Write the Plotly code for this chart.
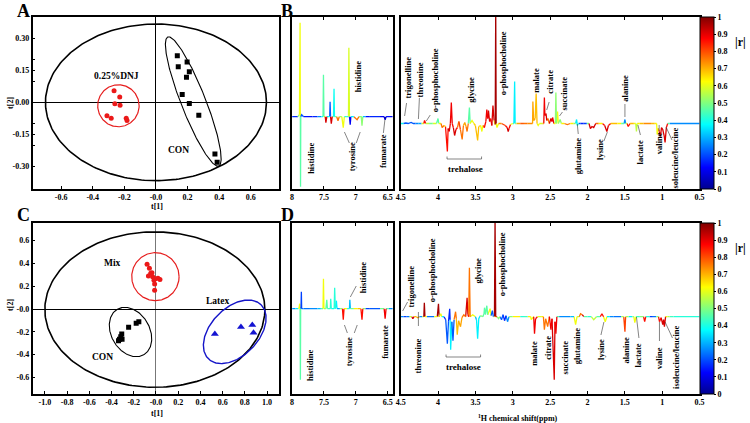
import numpy as np
import plotly.graph_objects as go
from plotly.colors import sample_colorscale

W, H = 750, 423
FONT = "Liberation Serif"
JET = [[0, 'rgb(0,0,143)'], [0.125, 'rgb(0,0,255)'], [0.375, 'rgb(0,255,255)'],
       [0.625, 'rgb(255,255,0)'], [0.875, 'rgb(255,0,0)'], [1, 'rgb(128,0,0)']]

# ---------------- score plot data ----------------
A_DNJ_T1 = [-0.265, -0.229, -0.260, -0.227, -0.310, -0.283, -0.188, -0.183]
A_DNJ_T2 = [0.054, 0.025, -0.006, -0.014, -0.063, -0.074, -0.075, -0.085]
A_CON_T1 = [0.135, 0.197, 0.141, 0.211, 0.193, 0.166, 0.211, 0.271, 0.373, 0.387]
A_CON_T2 = [0.219, 0.189, 0.167, 0.143, 0.118, 0.037, -0.005, -0.060, -0.242, -0.281]

C_MIX_T1 = [-0.080, -0.059, -0.047, -0.068, -0.030, -0.018, -0.006, 0.018, 0.036, -0.012, -0.012, -0.036]
C_MIX_T2 = [0.392, 0.357, 0.313, 0.290, 0.284, 0.252, 0.266, 0.269, 0.260, 0.219, 0.164, 0.319]
C_CON_T1 = [-0.154, -0.178, -0.246, -0.308, -0.317, -0.328, -0.337, -0.305]
C_CON_T2 = [-0.111, -0.126, -0.161, -0.219, -0.243, -0.266, -0.278, -0.266]
C_LATEX_T1 = [0.53, 0.765, 0.867, 0.878]
C_LATEX_T2 = [-0.22, -0.157, -0.140, -0.208]

# ellipses: centre (data), semi-axes (px), angle (deg)
A_ELLIPSES = [((0.0, 0.0), 112, 78.3, 0, 'black', 1.6),
              ((-0.2375, -0.016), 21, 21, 0, 'rgb(230,30,30)', 1.2),
              ((0.236, 0.004), 69.5, 12.4, -68.2, 'black', 1.1)]
C_ELLIPSES = [((-0.01, -0.005), 111.5, 77.7, 0, 'black', 1.6),
              ((-0.005, 0.284), 24, 24, 0, 'rgb(230,30,30)', 1.2),
              ((-0.229, -0.202), 26.4, 19.4, -58.7, 'black', 1.1),
              ((0.709, -0.200), 38, 24, 45, 'rgb(20,20,200)', 1.4)]

# ---------------- spectra data (ppm, intensity, |r|) ----------------
BL = [(8.00,0,0.1),(7.95,0,0.2),(7.91,0,0.1),(7.885,2,0.5),(7.875,94,0.62),(7.871,0,0.6),(7.868,-70,0.45),
      (7.864,0,0.45),(7.85,2,0.2),(7.82,0,0.1),(7.75,0,0.15),(7.68,0,0.1),(7.60,0,0.2),(7.54,0,0.3),
      (7.515,0,0.45),(7.508,42,0.45),(7.50,0,0.45),(7.48,0,0.7),(7.47,-6,0.9),(7.455,0,0.5),(7.41,0,0.25),
      (7.404,15,0.2),(7.397,0,0.25),(7.385,-7,0.9),(7.37,0,0.6),(7.35,0,0.4),(7.342,28,0.38),(7.335,0,0.4),
      (7.30,0,0.6),(7.28,-4,0.75),(7.26,0,0.5),(7.22,0,0.55),(7.197,-11,0.6),(7.18,0,0.5),(7.14,0,0.3),
      (7.115,0,0.55),(7.109,69,0.58),(7.10,0,0.55),(7.088,-8,0.1),(7.078,0,0.1),(7.03,0,0.6),(6.98,-3,0.75),
      (6.95,0,0.5),(6.915,0,0.5),(6.903,-9,0.5),(6.89,0,0.45),(6.85,0,0.15),(6.78,0,0.1),(6.70,0,0.2),
      (6.62,0,0.1),(6.555,0,0.1),(6.54,-3,0.05),(6.525,0,0.1),(6.42,0,0.15)]
BR = [(4.50,0,0.35),(4.46,0,0.4),(4.43,0.5,0.2),(4.40,0,0.1),(4.36,1,0.2),(4.33,0,0.1),(4.30,0,0.3),(4.26,0,0.2),
      (4.22,0,0.35),(4.19,0,0.8),(4.18,3,0.85),(4.165,0,0.7),(4.12,0,0.4),(4.07,0,0.55),(4.02,0,0.6),(4.00,5,0.45),
      (3.99,0,0.5),(3.96,0,0.7),(3.945,-4,0.75),(3.92,-2,0.6),(3.90,-3,0.65),(3.875,-28,0.85),(3.865,-5,0.8),
      (3.850,-8,0.9),(3.835,0,0.9),(3.822,21,0.88),(3.81,0,0.85),(3.795,-4,0.85),(3.778,-12,0.9),(3.76,-6,0.85),
      (3.74,-4,0.75),(3.721,2,0.8),(3.70,-6,0.8),(3.677,-16,0.75),(3.66,-2,0.7),(3.642,1,0.7),(3.625,-3,0.7),
      (3.611,-8,0.75),(3.595,0,0.6),(3.580,16,0.45),(3.57,0,0.5),(3.545,3,0.6),(3.52,0,0.55),(3.50,-2,0.65),
      (3.47,-17,0.68),(3.455,-3,0.65),(3.43,-2,0.6),(3.413,-8,0.62),(3.40,-2,0.65),(3.38,-4,0.85),(3.36,2,0.85),
      (3.347,14,0.88),(3.335,5,0.88),(3.325,13,0.9),(3.31,2,0.85),(3.295,5,0.85),(3.28,-2,0.75),(3.265,18,0.9),
      (3.25,3,0.6),(3.235,-1,0.55),(3.228,115,0.97),(3.222,0,0.95),(3.211,-4,0.6),(3.19,0,0.7),(3.15,0,0.75),
      (3.10,-2,0.8),(3.075,-4,0.85),(3.061,-8,0.9),(3.05,-5,0.85),(3.03,-1,0.6),(3.0,0,0.5),(2.985,0,0.4),
      (2.975,42,0.35),(2.968,0,0.35),(2.95,0,0.65),(2.90,0,0.75),(2.85,0,0.8),(2.80,0,0.7),(2.75,0,0.75),
      (2.735,0,0.7),(2.731,22,0.72),(2.72,3,0.72),(2.70,5,0.7),(2.687,30,0.68),(2.675,0,0.65),(2.66,-2,0.6),
      (2.643,0,0.55),(2.60,0,0.6),(2.585,0,0.85),(2.577,26,0.88),(2.57,8,0.85),(2.555,10,0.9),(2.545,3,0.85),
      (2.530,5,0.75),(2.51,0,0.7),(2.489,5,0.9),(2.475,2,0.85),(2.467,6,0.88),(2.45,0,0.7),(2.43,0,0.55),
      (2.423,31,0.5),(2.415,0,0.55),(2.401,12,0.6),(2.39,0,0.55),(2.366,4,0.5),(2.35,0,0.6),(2.31,0,0.7),
      (2.27,-1,0.75),(2.23,0,0.65),(2.19,0,0.6),(2.16,0,0.45),(2.146,4,0.35),(2.135,-2,0.4),(2.12,0,0.3),
      (2.09,0,0.1),(2.05,0,0.2),(2.01,0,0.15),(1.98,0,0.8),(1.961,-5,0.9),(1.94,-3,0.9),(1.917,-4,0.9),
      (1.89,0,0.85),(1.85,0,0.7),(1.80,0,0.6),(1.77,-2,0.85),(1.741,-8,0.9),(1.72,-2,0.85),(1.69,0,0.7),
      (1.65,0,0.65),(1.60,0,0.7),(1.55,0,0.6),(1.51,0,0.3),(1.499,4,0.25),(1.49,0,0.3),(1.47,0,0.8),
      (1.455,-3,0.85),(1.43,0,0.7),(1.38,0,0.65),(1.355,0,0.55),(1.345,-8,0.55),(1.335,0,0.6),(1.30,0,0.65),
      (1.25,0,0.7),(1.21,0,0.75),(1.15,0,0.7),(1.10,0,0.65),(1.075,0,0.6),(1.068,-11,0.62),(1.055,-5,0.8),
      (1.04,-8,0.85),(1.024,-13,0.9),(1.01,-4,0.88),(0.993,-6,0.9),(0.975,-12,0.9),(0.962,-19,0.92),
      (0.945,-4,0.85),(0.927,0,0.6),(0.90,0,0.3),(0.85,0,0.2),(0.80,0,0.3),(0.75,0,0.2),(0.70,0,0.3),
      (0.65,0,0.2),(0.60,0,0.3),(0.55,0,0.2),(0.50,0,0.3)]
DL = [(8.00,0,0.2),(7.95,0,0.3),(7.90,0,0.4),(7.89,1,0.6),(7.881,5,0.62),(7.875,0,0.5),(7.870,-71,0.45),
      (7.866,0,0.4),(7.86,2,0.2),(7.855,17,0.18),(7.85,0,0.2),(7.82,0,0.3),(7.78,0,0.15),(7.72,0,0.3),
      (7.66,0,0.2),(7.60,0,0.3),(7.55,0,0.35),(7.515,0,0.55),(7.508,30,0.6),(7.50,0,0.55),(7.47,0,0.5),
      (7.456,9,0.45),(7.445,0,0.45),(7.40,0,0.4),(7.394,10,0.42),(7.385,0,0.4),(7.34,0,0.38),(7.332,21,0.4),
      (7.322,0,0.38),(7.305,8,0.35),(7.295,0,0.3),(7.25,0,0.25),(7.21,0,0.75),(7.197,-11,0.85),(7.185,0,0.8),
      (7.14,0,0.45),(7.10,0,0.35),(7.094,9,0.32),(7.085,0,0.35),(7.03,0,0.6),(6.97,0,0.65),(6.92,0,0.7),
      (6.903,-11,0.85),(6.89,0,0.8),(6.85,0,0.2),(6.78,0,0.15),(6.70,0,0.25),(6.62,0,0.15),(6.555,0,0.8),
      (6.54,-10,0.88),(6.525,0,0.7),(6.48,0,0.2),(6.42,0,0.3)]
DR = [(4.50,0,0.3),(4.46,0,0.2),(4.42,0,0.15),(4.38,0,0.3),(4.35,0,0.8),(4.337,-2,0.9),(4.32,0,0.6),(4.29,0,0.75),
      (4.271,-1,0.7),(4.25,0,0.3),(4.21,0,0.2),(4.19,0,0.9),(4.183,14,0.97),(4.175,0,0.95),(4.15,0,0.3),
      (4.10,0,0.15),(4.05,0,0.3),(4.01,0,0.9),(3.994,13,0.97),(3.985,0,0.9),(3.963,3,0.6),(3.95,0,0.4),
      (3.92,0,0.3),(3.897,-3,0.15),(3.875,-27,0.2),(3.86,-5,0.2),(3.844,8,0.15),(3.838,-3,0.25),
      (3.831,-33,0.35),(3.815,-5,0.25),(3.800,-24,0.2),(3.785,-3,0.3),(3.765,5,0.75),(3.755,-2,0.7),
      (3.743,-18,0.68),(3.725,-4,0.7),(3.699,-10,0.72),(3.68,-1,0.7),(3.655,2,0.75),(3.63,0,0.8),
      (3.611,19,0.92),(3.60,2,0.85),(3.590,0,0.8),(3.580,49,0.75),(3.570,0,0.7),(3.536,2,0.6),(3.50,0,0.4),
      (3.485,-3,0.3),(3.470,-22,0.35),(3.455,-2,0.35),(3.435,1,0.5),(3.40,0,0.45),(3.385,3,0.45),
      (3.378,9,0.45),(3.365,2,0.45),(3.347,11,0.45),(3.335,2,0.5),(3.303,8,0.6),(3.29,1,0.4),(3.273,6,0.2),
      (3.26,0,0.3),(3.245,0,0.9),(3.237,100,0.97),(3.228,0,0.9),(3.211,0,0.7),(3.19,-2,0.5),(3.17,0,0.2),
      (3.15,-3,0.2),(3.13,2,0.3),(3.11,-4,0.15),(3.09,1,0.3),(3.07,-5,0.25),(3.05,0,0.4),(3.00,0,0.6),
      (2.95,0,0.65),(2.90,0,0.6),(2.85,0,0.2),(2.80,0,0.65),(2.76,0,0.6),(2.753,-3,0.6),(2.72,0,0.8),
      (2.709,-17,0.88),(2.695,-2,0.85),(2.67,0,0.6),(2.62,0,0.55),(2.59,0,0.7),(2.577,-13,0.75),(2.56,-2,0.72),
      (2.533,-10,0.75),(2.51,0,0.8),(2.489,-13,0.88),(2.475,-2,0.85),(2.445,-63,0.9),(2.435,-5,0.88),
      (2.423,-17,0.88),(2.41,0,0.6),(2.38,0,0.3),(2.33,0,0.2),(2.28,0,0.3),(2.23,0,0.2),(2.18,0,0.4),
      (2.159,-8,0.62),(2.14,0,0.5),(2.11,0,0.6),(2.093,3,0.75),(2.071,2,0.9),(2.05,0,0.6),(2.00,0,0.3),
      (1.95,0,0.5),(1.917,-3,0.55),(1.88,0,0.3),(1.83,0,0.6),(1.807,3,0.85),(1.785,0,0.6),(1.763,-5,0.6),
      (1.74,0,0.5),(1.70,0,0.2),(1.65,0,0.3),(1.60,0,0.15),(1.55,0,0.3),(1.515,0,0.75),(1.499,-15,0.8),
      (1.49,0,0.75),(1.45,0,0.3),(1.40,0,0.4),(1.38,0,0.6),(1.367,-6,0.62),(1.35,0,0.55),(1.30,0,0.3),
      (1.25,0,0.7),(1.235,-5,0.85),(1.22,0,0.6),(1.17,0,0.2),(1.125,0,0.15),(1.08,0,0.3),(1.05,0,0.7),
      (1.037,-5,0.85),(1.015,-1,0.8),(0.993,-8,0.9),(0.982,-3,0.88),(0.971,-10,0.9),(0.955,0,0.7),
      (0.93,0,0.6),(0.90,0,0.45),(0.85,0,0.42),(0.75,0,0.4),(0.65,0,0.42),(0.55,0,0.4),(0.50,0,0.4)]

A_XTICKS = [-0.6, -0.4, -0.2, 0.0, 0.2, 0.4, 0.6]
A_XTEXT = ['-0.6', '-0.4', '-0.2', '-0.0', '0.2', '0.4', '0.6']
A_YTICKS = [-0.30, -0.15, 0.0, 0.15, 0.30]
A_YTEXT = ['-0.30', '-0.15', '0.00', '0.15', '0.30']
C_XTICKS = [-1.0, -0.8, -0.6, -0.4, -0.2, 0.0, 0.2, 0.4, 0.6, 0.8, 1.0]
C_XTEXT = ['-1.0', '-0.8', '-0.6', '-0.4', '-0.2', '-0.0', '0.2', '0.4', '0.6', '0.8', '1.0']
C_YTICKS = [-0.6, -0.4, -0.2, 0.0, 0.2, 0.4, 0.6]
C_YTEXT = ['-0.6', '-0.4', '-0.2', '-0.0', '0.2', '0.4', '0.6']
SL_TICKS = [8, 7.5, 7, 6.5]
SR_TICKS = [4.5, 4, 3.5, 3, 2.5, 2, 1.5, 1, 0.5]
CB_TICKS = [0, 0.1, 0.2, 0.3, 0.4, 0.5, 0.6, 0.7, 0.8, 0.9, 1]

# ---------------- layout geometry (px) ----------------
BOX = {'A': (28, 278, 17, 189), 'BL': (291, 393, 17, 189), 'BR': (401, 704, 17, 189),
       'C': (28, 278, 223, 394), 'DL': (291, 393, 223, 394), 'DR': (401, 704, 223, 394)}
RANGES = {'A': ([-0.78, 0.78], [-0.406, 0.40]), 'BL': ([8, 6.42], [-72.3, 99.7]),
          'BR': ([4.5, 0.5], [-65.5, 106.5]), 'C': ([-1.11, 1.11], [-0.746, 0.755]),
          'DL': ([8, 6.42], [-85.3, 85.7]), 'DR': ([4.5, 0.5], [-77.3, 93.7])}
AXN = {'A': 1, 'BL': 2, 'BR': 3, 'C': 4, 'DL': 5, 'DR': 6}


def X(px):
    return px / W


def Y(py):
    return 1 - py / H


fig = go.Figure()
TF = dict(family=FONT, size=8, color='black', weight='bold')


def axref(key):
    n = AXN[key]
    return ('x' if n == 1 else f'x{n}'), ('y' if n == 1 else f'y{n}')


def ellipse(key, centre, a, b, ang, color, width):
    l, r, t, bt = BOX[key]
    xr, yr = RANGES[key]
    sx = (r - l) / (xr[1] - xr[0])
    sy = (bt - t) / (yr[1] - yr[0])
    tt = np.linspace(0, 2 * np.pi, 241)
    th = np.radians(ang)
    dx = a * np.cos(tt) * np.cos(th) - b * np.sin(tt) * np.sin(th)
    dy = a * np.cos(tt) * np.sin(th) + b * np.sin(tt) * np.cos(th)
    xa, ya = axref(key)
    fig.add_trace(go.Scatter(x=centre[0] + dx / sx, y=centre[1] + dy / sy, mode='lines',
                             line=dict(color=color, width=width), xaxis=xa, yaxis=ya,
                             showlegend=False, hoverinfo='skip'))


def points(key, xs, ys, symbol, color, size):
    xa, ya = axref(key)
    fig.add_trace(go.Scatter(x=xs, y=ys, mode='markers', xaxis=xa, yaxis=ya,
                             marker=dict(symbol=symbol, color=color, size=size, line=dict(width=0)),
                             showlegend=False, hoverinfo='skip'))


def spectrum(key, data, nbins=40):
    xa, ya = axref(key)
    ppm = [d[0] for d in data]
    val = [d[1] for d in data]
    rr = [d[2] for d in data]
    runs = []
    for i in range(len(ppm) - 1):
        a, b = abs(val[i]), abs(val[i + 1])
        r = rr[i] if a > b else (rr[i + 1] if b > a else 0.5 * (rr[i] + rr[i + 1]))
        k = min(nbins - 1, int(r * nbins))
        if runs and runs[-1][0] == k and runs[-1][3] == i:
            runs[-1][1].append(ppm[i + 1]); runs[-1][2].append(val[i + 1]); runs[-1][3] = i + 1
        else:
            runs.append([k, [ppm[i], ppm[i + 1]], [val[i], val[i + 1]], i + 1])
    groups = {}
    for k, xs, ys, _ in runs:
        g = groups.setdefault(k, ([], []))
        g[0].extend(xs + [None]); g[1].extend(ys + [None])
    for k, (xs, ys) in groups.items():
        c = sample_colorscale(JET, [(k + 0.5) / nbins])[0]
        fig.add_trace(go.Scatter(x=xs, y=ys, mode='lines', xaxis=xa, yaxis=ya,
                                 line=dict(color=c, width=1.3), showlegend=False, hoverinfo='skip'))


def colorbar(key, top, bottom):
    xa, ya = axref(key)
    fig.add_trace(go.Scatter(x=[2.0], y=[0], mode='markers', xaxis=xa, yaxis=ya, showlegend=False,
                             hoverinfo='skip',
                             marker=dict(size=1, opacity=0, color=[0.5], colorscale=JET, cmin=0, cmax=1,
                                         showscale=True,
                                         colorbar=dict(x=X(704), xanchor='left', xpad=0, ypad=0,
                                                       y=Y((top + bottom) / 2), yanchor='middle',
                                                       len=(bottom - top) / H, lenmode='fraction',
                                                       thickness=14, thicknessmode='pixels',
                                                       outlinewidth=1, outlinecolor='black',
                                                       tickmode='array', tickvals=CB_TICKS,
                                                       ticktext=[f'{v:g}' for v in CB_TICKS],
                                                       ticks='outside', ticklen=2, tickcolor='black',
                                                       tickfont=dict(family=FONT, size=8, color='black',
                                                                     weight='bold')))))


# score plots
for e in A_ELLIPSES:
    ellipse('A', *e)
points('A', A_DNJ_T1, A_DNJ_T2, 'circle', 'rgb(235,25,25)', 5)
points('A', A_CON_T1, A_CON_T2, 'square', 'black', 5)
for e in C_ELLIPSES:
    ellipse('C', *e)
points('C', C_MIX_T1, C_MIX_T2, 'circle', 'rgb(235,25,25)', 5)
points('C', C_CON_T1, C_CON_T2, 'square', 'black', 5)
points('C', C_LATEX_T1, C_LATEX_T2, 'triangle-up', 'rgb(20,20,210)', 7)

# spectra
spectrum('BL', BL)
spectrum('BR', BR)
spectrum('DL', DL)
spectrum('DR', DR)
colorbar('BR', 17, 189)
colorbar('DR', 223, 394)

layout = dict(width=W, height=H, margin=dict(l=0, r=0, t=0, b=0), autosize=False,
              paper_bgcolor='white', plot_bgcolor='white', showlegend=False)

for key, n in AXN.items():
    l, r, t, b = BOX[key]
    xr, yr = RANGES[key]
    sfx = '' if n == 1 else str(n)
    xd = dict(domain=[X(l), X(r)], range=xr, showline=True, linecolor='black', linewidth=1.5,
              mirror=True, showgrid=False, zeroline=False, anchor='y' + sfx, tickfont=TF,
              ticks='inside', ticklen=3, tickcolor='black', fixedrange=True)
    yd = dict(domain=[Y(b), Y(t)], range=yr, showline=True, linecolor='black', linewidth=1.5,
              mirror=True, showgrid=False, zeroline=False, anchor='x' + sfx, tickfont=TF,
              fixedrange=True)
    if key in ('A', 'C'):
        xd.update(tickmode='array', tickvals=A_XTICKS if key == 'A' else C_XTICKS,
                  ticktext=A_XTEXT if key == 'A' else C_XTEXT, zeroline=True,
                  zerolinecolor='black' if key == 'A' else '#777', zerolinewidth=1)
        yd.update(tickmode='array', tickvals=A_YTICKS if key == 'A' else C_YTICKS,
                  ticktext=A_YTEXT if key == 'A' else C_YTEXT, ticks='inside', ticklen=3,
                  tickcolor='black', zeroline=True, zerolinecolor='black', zerolinewidth=1)
        if key == 'A':
            yd.update(minor=dict(tickvals=[-0.2, -0.1, 0.1, 0.2], ticklen=3, ticks='inside',
                                 tickcolor='black'))
    else:
        xd.update(tickmode='array', tickvals=SL_TICKS if key in ('BL', 'DL') else SR_TICKS,
                  ticktext=[f'{v:g}' for v in (SL_TICKS if key in ('BL', 'DL') else SR_TICKS)],
                  mirror='ticks')
        yd.update(showticklabels=False, ticks='')
    layout['xaxis' + sfx] = xd
    layout['yaxis' + sfx] = yd

fig.update_layout(**layout)


def txt(s, px, py, size=9, angle=0, **kw):
    fig.add_annotation(text=s, x=X(px), y=Y(py), xref='paper', yref='paper', showarrow=False,
                       textangle=angle, xanchor='center', yanchor='middle',
                       font=dict(family=FONT, size=size, color='black', weight='bold'), **kw)


def seg(x0, y0, x1, y1, w=0.6, color='#333'):
    fig.add_shape(type='line', xref='paper', yref='paper', x0=X(x0), y0=Y(y0), x1=X(x1), y1=Y(y1),
                  line=dict(color=color, width=w))


# panel letters
for s, px, py in [('A', 19, 11), ('B', 286, 11), ('C', 19, 215), ('D', 286, 215)]:
    txt(s, px, py, size=18)

# score-plot texts
txt('0.25%DNJ', 113, 76, size=9.5)
txt('CON', 176, 150, size=9.5)
txt('Mix', 109, 263, size=9.5)
txt('Latex', 215, 301, size=9.5)
txt('CON', 99, 357, size=9.5)
for py in (207, 413):
    txt('t[1]', 154, py, size=8)
for py in (103, 305):
    txt('t[2]', 5, py, size=8, angle=-90)

# metabolite labels (vertical)
VLABELS = [('histidine', 310, 158), ('histidine', 358, 77), ('tyrosine', 352, 157), ('fumarate', 383, 151),
           ('trigonelline', 408, 78), ('threonine', 421, 80), ('o-phosphocholine', 436, 80),
           ('glycine', 472, 90), ('o-phosphocholine', 505, 63), ('malate', 538, 80), ('citrate', 552, 82),
           ('succinate', 567, 93), ('glutamine', 581, 156), ('lysine', 603, 149), ('alanine', 628, 88),
           ('lactate', 644, 152), ('valine', 663, 143), ('isoleucine/leucine', 679, 159),
           ('histidine', 309, 365), ('histidine', 363, 278), ('tyrosine', 349, 352), ('fumarate', 385, 342),
           ('trigonelline', 411, 287), ('threonine', 419, 356), ('o-phosphocholine', 433, 270),
           ('glycine', 479, 271), ('o-phosphocholine', 504, 264), ('malate', 536, 353), ('citrate', 550, 348),
           ('succinate', 568, 357), ('glutamine', 580, 346), ('lysine', 604, 349), ('alanine', 629, 350),
           ('lactate', 642, 355), ('valine', 663, 358), ('isoleucine/leucine', 680, 357)]
for s, px, py in VLABELS:
    txt(s, px, py, size=8.5, angle=-90)
txt('trehalose', 467, 169, size=9)
txt('trehalose', 465, 367, size=9)

# leader lines & brackets
LEADERS = [(405, 116, 407, 103), (419, 119, 420, 98), (427, 121, 431, 115),
           (344, 132, 349, 143), (360, 132, 356, 143), (385, 120, 383.5, 133),
           (551.5, 102, 549, 110), (565, 112, 562, 116), (580, 124, 581, 134),
           (610.5, 132, 607, 141), (628.3, 104, 628.3, 117), (641.5, 125, 644, 135),
           (663, 125, 663, 131), (670, 127, 676, 140),
           (350, 297, 356, 286), (344, 325, 347, 333), (357, 325, 354, 333),
           (403, 311, 408, 302), (419, 312, 419, 326), (607, 322, 604, 335),
           (640, 317, 642.5, 338), (663.3, 322, 663.3, 341), (669, 322, 676.5, 338)]
for l in LEADERS:
    seg(*l)
for x0, x1, yb in [(448, 483, 159), (447, 482, 357)]:
    seg(x0, yb - 2.5, x0, yb)
    seg(x0, yb, x1, yb)
    seg(x1, yb, x1, yb - 2.5)

# colorbar titles and x title
txt('|r|', 745, 42, size=12)
txt('|r|', 745, 248, size=12)
txt('<sup>1</sup>H chemical shift(ppm)', 520, 418, size=8)

fig.write_html('out.html', config={'displayModeBar': False},
               post_script="document.body.style.margin='0';document.body.style.overflow='hidden';")
